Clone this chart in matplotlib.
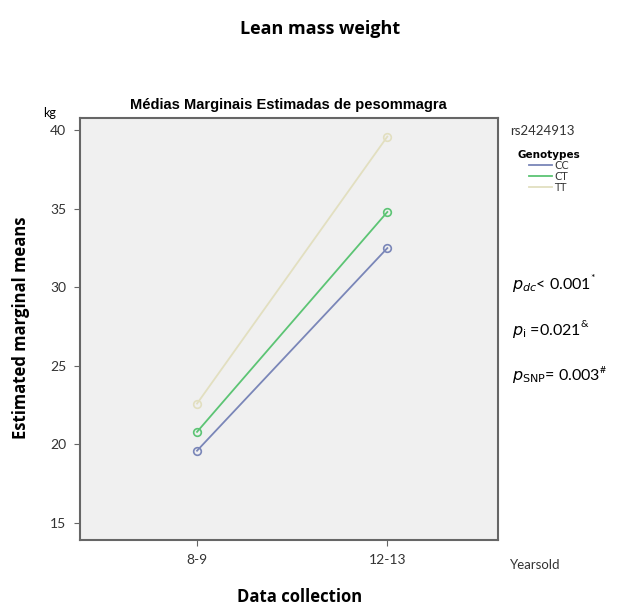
import matplotlib.pyplot as plt
from matplotlib.lines import Line2D

# Data
periods = ["8-9", "12-13"]
cc = [19.6, 32.5]
ct = [20.8, 34.8]
tt = [22.6, 39.6]
genotypes = ["CC", "CT", "TT"]
colors = ["#7a86b8", "#5cc474", "#e2dfc0"]

fig = plt.figure(figsize=(6.3, 6.07), dpi=100)
ax = fig.add_axes([0.127, 0.110, 0.663, 0.696])
ax.set_facecolor("#f0f0f0")

x = range(len(periods))
for vals, c in zip([cc, ct, tt], colors):
    ax.plot(x, vals, color=c, lw=1.3, marker="o", ms=5.5,
            mfc="none", mec=c, mew=1.2)

ax.set_xlim(-0.615, 1.58)
ax.set_ylim(13.9, 40.8)
ax.set_xticks(list(x))
ax.set_xticklabels(periods)
ax.set_yticks([15, 20, 25, 30, 35, 40])

for s in ax.spines.values():
    s.set_color("#666666")
    s.set_linewidth(1.5)
ax.tick_params(direction="out", length=4, color="#666666", labelsize=10,
               labelcolor="#333333", pad=6)
for lab in ax.get_xticklabels() + ax.get_yticklabels():
    lab.set_family("Lato")

ax.set_title("Médias Marginais Estimadas de pesommagra", fontsize=10.5,
             fontweight="bold", family="Liberation Sans", pad=6)

fig.text(0.508, 0.953, "Lean mass weight", ha="center", va="center",
         fontsize=13, fontweight="bold", family="Open Sans")
fig.text(0.476, 0.017, "Data collection", ha="center", va="center",
         fontsize=12, fontweight="bold", family="Open Sans")
fig.text(0.034, 0.46, "Estimated marginal means", ha="center", va="center",
         rotation=90, fontsize=12, fontweight="bold", family="Open Sans")
fig.text(0.079, 0.814, "kg", ha="center", va="center", fontsize=9,
         family="Lato")
fig.text(0.85, 0.069, "Yearsold", ha="center", va="center", fontsize=9.5,
         family="Lato", color="#333333")
fig.text(0.81, 0.784, "rs2424913", ha="left", va="center", fontsize=9.5,
         family="Lato", color="#333333")

handles = [Line2D([], [], color=c, lw=1.3) for c in colors]
leg = fig.legend(handles, genotypes, loc="upper left",
                 bbox_to_anchor=(0.81, 0.765), frameon=False,
                 title="Genotypes", fontsize=7.5, handlelength=2.2,
                 handletextpad=0.2, labelspacing=0.1, borderpad=0.2)
leg.get_title().set_fontsize(7.5)
leg.get_title().set_fontweight("bold")
for t in leg.get_texts():
    t.set_color("#333333")

ptexts = [r"$p_{dc}$< 0.001", r"$p_{\mathrm{i}}$ =0.021",
          r"$p_{\mathrm{SNP}}$= 0.003"]
psups = ["*", "&", "#"]
for i, (t, sup) in enumerate(zip(ptexts, psups)):
    tobj = fig.text(0.812, 0.53 - i * 0.075, t, ha="left", va="center",
                    fontsize=11.5, family="Lato")
    ax.annotate(sup, xy=(1, 0.85), xycoords=tobj, xytext=(0, 0),
                textcoords="offset points", ha="left", va="center",
                fontsize=7.5, family="Lato")

fig.savefig("out.png")
